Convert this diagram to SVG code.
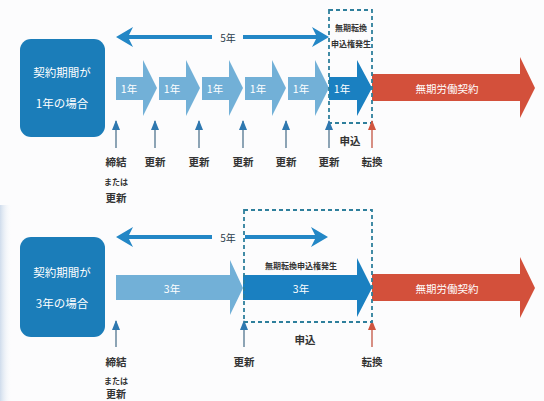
<svg xmlns="http://www.w3.org/2000/svg" width="544" height="401" viewBox="0 0 544 401">
<defs>
<style>
text{font-family:"Noto Sans CJK JP","Noto Sans",sans-serif;text-anchor:middle;dominant-baseline:central}
.bx{fill:#1b7db9}
.bxt{fill:#ffffff;font-size:11.5px}
.lt{fill:#72b0d7}
.dk{fill:#1a80c1}
.rd{fill:#d3503b}
.wt{fill:#ffffff;font-size:10.5px}
.lab{fill:#333333;font-size:10.5px;font-weight:bold}
.sm{fill:#333333;font-size:8px;font-weight:bold}
.yr{fill:#2a3c4a;font-size:10px}
.ds{fill:none;stroke:#2e7f9c;stroke-width:1.8;stroke-dasharray:4 3}
.up{stroke:#5d7f96;stroke-width:1.4;fill:none}
.upr{stroke:#c8604f;stroke-width:1.4;fill:none}
.span{stroke:#2387c6;stroke-width:4;fill:none}
.sh{fill:#2387c6}
</style>
<marker id="ah" viewBox="0 0 10 8" refX="9" refY="4" markerWidth="10" markerHeight="8" markerUnits="userSpaceOnUse" orient="auto">
<path d="M10,4 L0,0 L0,8 Z" fill="#2e78b0"/>
</marker>
<marker id="ahr" viewBox="0 0 10 8" refX="9" refY="4" markerWidth="10" markerHeight="8" markerUnits="userSpaceOnUse" orient="auto">
<path d="M10,4 L0,0 L0,8 Z" fill="#d0553f"/>
</marker>
<linearGradient id="edge" x1="0" y1="0" x2="1" y2="0">
<stop offset="0" stop-color="#cfdcec"/>
<stop offset="1" stop-color="#ffffff" stop-opacity="0"/>
</linearGradient>
</defs>
<rect width="544" height="401" fill="#fcfcfd"/>
<rect x="0" y="205" width="12" height="196" fill="url(#edge)"/>

<!-- ===== Top: 1-year contracts ===== -->
<g id="box1">
<rect class="bx" x="20" y="39" width="85" height="98" rx="11"/>
<text class="bxt" x="62" y="72">契約期間が</text>
<text class="bxt" x="62" y="103">1年の場合</text>
</g>

<g id="span1">
<line class="span" x1="124" y1="37" x2="212" y2="37"/>
<path class="sh" d="M116,37 L133,27 L128,37 L133,47 Z"/>
<text class="yr" x="228" y="37">5年</text>
<line class="span" x1="243" y1="37" x2="320" y2="37"/>
<path class="sh" d="M329,37 L312,27 L317,37 L312,47 Z"/>
</g>

<g id="y1a"><path class="lt" d="M116,77 H143 V60 L157,88 L143,116 V100 H116 Z"/><text class="wt" x="129" y="88">1年</text></g>
<g id="y1b"><path class="lt" d="M159,77 H186 V60 L200,88 L186,116 V100 H159 Z"/><text class="wt" x="172" y="88">1年</text></g>
<g id="y1c"><path class="lt" d="M202,77 H229 V60 L243,88 L229,116 V100 H202 Z"/><text class="wt" x="215" y="88">1年</text></g>
<g id="y1d"><path class="lt" d="M245,77 H272 V60 L286,88 L272,116 V100 H245 Z"/><text class="wt" x="258" y="88">1年</text></g>
<g id="y1e"><path class="lt" d="M288,77 H315 V60 L329,88 L315,116 V100 H288 Z"/><text class="wt" x="301" y="88">1年</text></g>
<g id="y1f"><path class="dk" d="M329,77 H357 V60 L372,88 L357,116 V100 H329 Z"/><text class="wt" x="342" y="88">1年</text></g>

<g id="perm1">
<path class="rd" d="M372,74 H520 V57 L535,88 L520,118 V101 H372 Z"/>
<text class="wt" x="447" y="88">無期労働契約</text>
</g>

<g id="right1">
<rect class="ds" x="329" y="10" width="43" height="113"/>
<text class="sm" x="351" y="27">無期転換</text>
<text class="sm" x="351" y="43">申込権発生</text>
<text class="lab" x="350" y="140">申込</text>
</g>

<g id="connectors">
<line class="up" x1="116" y1="148" x2="116" y2="121" marker-end="url(#ah)"/>
<line class="up" x1="155" y1="148" x2="155" y2="121" marker-end="url(#ah)"/>
<line class="up" x1="199" y1="148" x2="199" y2="121" marker-end="url(#ah)"/>
<line class="up" x1="243" y1="148" x2="243" y2="121" marker-end="url(#ah)"/>
<line class="up" x1="286" y1="148" x2="286" y2="121" marker-end="url(#ah)"/>
<line class="up" x1="329" y1="148" x2="329" y2="121" marker-end="url(#ah)"/>
<line class="upr" x1="372" y1="148" x2="372" y2="121" marker-end="url(#ahr)"/>
<line class="up" x1="116" y1="347" x2="116" y2="321" marker-end="url(#ah)"/>
<line class="up" x1="244" y1="347" x2="244" y2="321" marker-end="url(#ah)"/>
<line class="upr" x1="372" y1="347" x2="372" y2="321" marker-end="url(#ahr)"/>
</g>

<g id="labels1">
<text class="lab" x="116" y="161">締結</text>
<text class="sm" x="116" y="181">または</text>
<text class="lab" x="116" y="197">更新</text>
<text class="lab" x="155" y="161">更新</text>
<text class="lab" x="199" y="161">更新</text>
<text class="lab" x="243" y="161">更新</text>
<text class="lab" x="286" y="161">更新</text>
<text class="lab" x="329" y="161">更新</text>
<text class="lab" x="372" y="161">転換</text>
</g>

<!-- ===== Bottom: 3-year contract ===== -->
<g id="box3">
<rect class="bx" x="20" y="237" width="85" height="100" rx="11"/>
<text class="bxt" x="62" y="272">契約期間が</text>
<text class="bxt" x="62" y="303">3年の場合</text>
</g>

<g id="span3">
<line class="span" x1="124" y1="237" x2="212" y2="237"/>
<path class="sh" d="M116,237 L133,227 L128,237 L133,247 Z"/>
<text class="yr" x="228" y="237">5年</text>
<line class="span" x1="245" y1="237" x2="320" y2="237"/>
<path class="sh" d="M328,237 L311,227 L316,237 L311,247 Z"/>
</g>

<g id="y3a"><path class="lt" d="M116,275 H230 V260 L243,288 L230,315 V300 H116 Z"/><text class="wt" x="172" y="288">3年</text></g>
<g id="y3b"><path class="dk" d="M243,275 H357 V258 L372,288 L357,317 V300 H243 Z"/><text class="wt" x="301" y="288">3年</text></g>

<g id="perm3">
<path class="rd" d="M372,274 H520 V257 L535,288 L520,318 V301 H372 Z"/>
<text class="wt" x="447" y="288">無期労働契約</text>
</g>

<g id="right3">
<rect class="ds" x="244" y="210" width="128" height="112"/>
<text class="sm" x="301" y="265">無期転換申込権発生</text>
<text class="lab" x="305" y="339">申込</text>
</g>

<g id="labels3">
<text class="lab" x="116" y="361">締結</text>
<text class="sm" x="116" y="380">または</text>
<text class="lab" x="116" y="393" style="font-size:10px">更新</text>
<text class="lab" x="244" y="361">更新</text>
<text class="lab" x="372" y="361">転換</text>
</g>
</svg>
